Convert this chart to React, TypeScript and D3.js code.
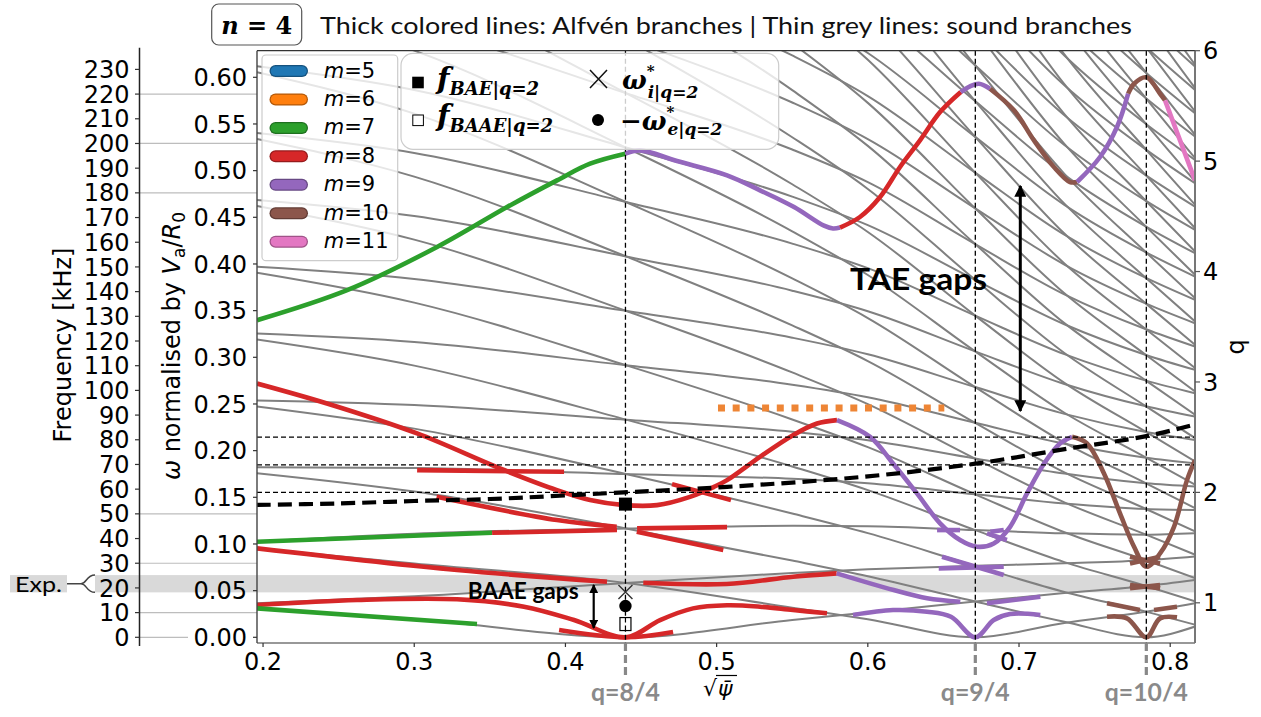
import React from "react";
import * as d3 from "d3";

// ---------- axes ----------
const X_DOMAIN = [0.196, 0.8164];
const OMEGA_DOMAIN = [-0.0061, 0.6285];
const Q_DOMAIN = [0.636, 6.0];
const KHZ_PER_OMEGA = 378;
const xTicks = [0.2, 0.3, 0.4, 0.5, 0.6, 0.7, 0.8];
const omegaTicks = [0, 0.05, 0.1, 0.15, 0.2, 0.25, 0.3, 0.35, 0.4, 0.45, 0.5, 0.55, 0.6];
const khzTicks = [0, 10, 20, 30, 40, 50, 60, 70, 80, 90, 100, 110, 120, 130, 140, 150, 160, 170, 180, 190, 200, 210, 220, 230];
const qTicks = [1, 2, 3, 4, 5, 6];
const khzGuides = [220, 200, 180, 50, 30, 10];
const expBandKHz = [18.2, 25.2];

// rational surfaces q = m/n
const rationalX = [0.4397, 0.6711, 0.7842];
const rationalQ = [2, 2.25, 2.5];
const rationalLabels = ["q=8/4", "q=9/4", "q=10/4"];

// safety factor profile (right axis)
const qProfile: [number, number][] = [
  [0.196, 1.886], [0.25, 1.9], [0.3, 1.922], [0.35, 1.94], [0.4386, 2.0], [0.507, 2.05],
  [0.6, 2.145], [0.6711, 2.26], [0.734, 2.4], [0.7842, 2.509], [0.8164, 2.615],
];

// orange dotted level
const orangeLevel = { x0: 0.5009, x1: 0.6506, w: 0.2458 };

// markers at q=2
const fBAE = 0.1427;
const fBAAE = 0.0142;
const omegaStarI = 0.0485;
const omegaStarE = 0.0335;

// ---------- m colours ----------
const mValues = [5, 6, 7, 8, 9, 10, 11];
const mColors = ["#1f77b4", "#ff7f0e", "#2ca02c", "#d62728", "#9467bd", "#8c564b", "#e377c2"];
const mEdge = ["#15527e", "#b35909", "#1f7020", "#961b1c", "#674884", "#623c35", "#9f5388"];

// ---------- Alfven branches (segments coloured by m) ----------
type Seg = { m: number; pts: [number, number][] };
const branchTop: Seg[] = [
  { m: 7, pts: [[0.196, 0.3397], [0.2556, 0.3719], [0.3151, 0.4182], [0.3614, 0.461], [0.3944, 0.4896], [0.4163, 0.5075], [0.4396, 0.5182]] },
  { m: 9, pts: [[0.4396, 0.5182], [0.4493, 0.5217], [0.4738, 0.5103], [0.5069, 0.495], [0.5287, 0.4789], [0.5512, 0.461], [0.571, 0.441], [0.577, 0.438], [0.5816, 0.439]] },
  { m: 8, pts: [[0.5816, 0.439], [0.5948, 0.4503], [0.6081, 0.4717], [0.6213, 0.5039], [0.6345, 0.5324], [0.6478, 0.5627], [0.6615, 0.5842]] },
  { m: 9, pts: [[0.6615, 0.5842], [0.6676, 0.5903], [0.6735, 0.5931], [0.6808, 0.5878]] },
  { m: 10, pts: [[0.6808, 0.5878], [0.6967, 0.5646], [0.7099, 0.5324], [0.7231, 0.5039], [0.7337, 0.4878], [0.7384, 0.4878]] },
  { m: 9, pts: [[0.7384, 0.4878], [0.7536, 0.5146], [0.7648, 0.5467], [0.7722, 0.5824]] },
  { m: 10, pts: [[0.7722, 0.5824], [0.7761, 0.5931], [0.7842, 0.6], [0.7933, 0.5824], [0.7966, 0.5753]] },
  { m: 11, pts: [[0.7966, 0.5753], [0.8065, 0.5324], [0.8164, 0.4896]] },
];
const branchBAE: Seg[] = [
  { m: 8, pts: [[0.196, 0.2719], [0.2423, 0.2505], [0.3019, 0.2184], [0.3567, 0.1809], [0.3944, 0.1577], [0.4163, 0.147], [0.4388, 0.1416], [0.4606, 0.1416], [0.4824, 0.1505], [0.4983, 0.1612], [0.5069, 0.1684], [0.5287, 0.1934], [0.5505, 0.2166], [0.5664, 0.2291], [0.5796, 0.2327]] },
  { m: 9, pts: [[0.5796, 0.2327], [0.6015, 0.2148], [0.6167, 0.1863], [0.6325, 0.1542], [0.6478, 0.1221], [0.661, 0.1042], [0.6722, 0.097], [0.6833, 0.1006], [0.6941, 0.1184], [0.7053, 0.1542], [0.7166, 0.1863], [0.7271, 0.2077], [0.7351, 0.2148]] },
  { m: 10, pts: [[0.7351, 0.2148], [0.745, 0.2077], [0.7562, 0.1756], [0.7668, 0.1328], [0.7761, 0.097], [0.7842, 0.0756], [0.7933, 0.0899], [0.8025, 0.1184], [0.8111, 0.1684], [0.8164, 0.1898]] },
];
const branchLow: Seg[] = [
  { m: 8, pts: [[0.3019, 0.1791], [0.3991, 0.1773]] },
  { m: 8, pts: [[0.4705, 0.1641], [0.5095, 0.147]] },
  { m: 7, pts: [[0.196, 0.1024], [0.3515, 0.112]] },
  { m: 8, pts: [[0.3515, 0.112], [0.4341, 0.1149]] },
  { m: 8, pts: [[0.4474, 0.1167], [0.5069, 0.118]] },
  { m: 8, pts: [[0.3148, 0.1505], [0.3944, 0.1256], [0.4339, 0.1184]] },
  { m: 8, pts: [[0.4472, 0.1131], [0.5044, 0.0935]] },
  { m: 8, pts: [[0.196, 0.0953], [0.3283, 0.0721], [0.4275, 0.0595]] },
  { m: 8, pts: [[0.4515, 0.0585], [0.5067, 0.0571], [0.5506, 0.0649], [0.5794, 0.0685]] },
  { m: 9, pts: [[0.5794, 0.0685], [0.6171, 0.0506], [0.6392, 0.0418], [0.6612, 0.0381]] },
  { m: 9, pts: [[0.6788, 0.0364], [0.7141, 0.0435]] },
  { m: 8, pts: [[0.196, 0.0346], [0.2622, 0.0399], [0.3283, 0.0407], [0.3726, 0.0328], [0.4057, 0.0185], [0.4401, 0.0], [0.4626, 0.0185], [0.4844, 0.031], [0.5069, 0.0343], [0.5287, 0.0328], [0.5505, 0.0292], [0.573, 0.0257]] },
  { m: 9, pts: [[0.5902, 0.0239], [0.6167, 0.0292], [0.6392, 0.0274], [0.655, 0.022], [0.6711, 0.0], [0.6833, 0.0185], [0.6941, 0.0249], [0.7141, 0.0239]] },
  { m: 7, pts: [[0.196, 0.031], [0.3415, 0.0142]] },
  { m: 8, pts: [[0.3958, 0.0078], [0.4401, 0.0], [0.4712, 0.0057]] },
  { m: 9, pts: [[0.6458, 0.1149], [0.661, 0.1149]] },
  { m: 9, pts: [[0.6788, 0.1113], [0.692, 0.1042]] },
  { m: 9, pts: [[0.681, 0.1131], [0.6899, 0.1149]] },
  { m: 9, pts: [[0.6469, 0.0739], [0.6899, 0.0756]] },
  { m: 9, pts: [[0.6491, 0.0863], [0.6899, 0.0667]] },
  { m: 10, pts: [[0.7734, 0.056], [0.7933, 0.0525]] },
  { m: 10, pts: [[0.7734, 0.0525], [0.7933, 0.056]] },
  { m: 10, pts: [[0.7582, 0.0364], [0.78, 0.0292]] },
  { m: 10, pts: [[0.7893, 0.0292], [0.8045, 0.0328]] },
  { m: 10, pts: [[0.7582, 0.0221], [0.7714, 0.0203], [0.7842, 0.0], [0.7933, 0.0203], [0.8045, 0.0214]] },
  { m: 10, pts: [[0.7734, 0.0863], [0.7933, 0.0792]] },
  { m: 10, pts: [[0.7734, 0.0792], [0.7933, 0.0863]] },
];

// ---------- sound branches (grey), values read at common abscissae ----------
const soundX = [0.196, 0.3, 0.44, 0.55, 0.6, 0.671, 0.73, 0.784, 0.8164];
const N = null;
const soundLines: (number | null)[][] = [
  // steeply falling family
  [0.2474, 0.2236, 0.1749, 0.1326, 0.1116, 0.0766, 0.0486, 0.0275, 0.0135],
  [0.319, 0.2911, 0.2332, 0.183, 0.1577, 0.1149, 0.0806, 0.055, 0.0385],
  [0.3906, 0.3586, 0.2915, 0.2334, 0.2038, 0.1532, 0.1126, 0.0825, 0.0635],
  [0.4622, 0.4261, 0.3498, 0.2838, 0.2499, 0.1915, 0.1446, 0.11, 0.0885],
  [0.5338, 0.4936, 0.4081, 0.3342, 0.296, 0.2298, 0.1766, 0.1375, 0.1135],
  [0.6054, 0.5611, 0.4664, 0.3846, 0.3421, 0.2681, 0.2086, 0.165, 0.1385],
  [0.677, 0.6286, 0.5247, 0.435, 0.3882, 0.3064, 0.2406, 0.1925, 0.1635],
  [0.7486, 0.6961, 0.583, 0.4854, 0.4343, 0.3447, 0.2726, 0.22, 0.1885],
  [0.8202, 0.7636, 0.6413, 0.5358, 0.4804, 0.383, 0.3046, 0.2475, 0.2135],
  [0.8918, 0.8311, 0.6996, 0.5862, 0.5265, 0.4213, 0.3366, 0.275, 0.2385],
  [N, 0.8986, 0.7579, 0.6366, 0.5726, 0.4596, 0.3686, 0.3025, 0.2635],
  [N, N, 0.8162, 0.687, 0.6187, 0.4979, 0.4006, 0.33, 0.2885],
  [N, N, 0.8745, 0.7374, 0.6648, 0.5362, 0.4326, 0.3575, 0.3135],
  [N, N, N, 0.7878, 0.7109, 0.5745, 0.4646, 0.385, 0.3385],
  [N, N, N, 0.8382, 0.757, 0.6128, 0.4966, 0.4125, 0.3635],
  [N, N, N, 0.8886, 0.8031, 0.6511, 0.5286, 0.44, 0.3885],
  [N, N, N, N, 0.8492, 0.6894, 0.5606, 0.4675, 0.4135],
  [N, N, N, N, 0.8953, 0.7277, 0.5926, 0.495, 0.4385],
  [N, N, N, N, N, 0.766, 0.6246, 0.5225, 0.4635],
  [N, N, N, N, N, 0.8043, 0.6566, 0.55, 0.4885],
  [N, N, N, N, N, 0.8426, 0.6886, 0.5775, 0.5135],
  [N, N, N, N, N, 0.8809, 0.7206, 0.605, 0.5385],
  [N, N, N, N, N, N, 0.7526, 0.6325, 0.5635],
  [N, N, N, N, N, N, 0.7846, 0.66, 0.5885],
  [N, N, N, N, N, N, 0.8166, 0.6875, 0.6135],
  // gently falling family
  [0.0365, 0.044, 0.0583, 0.069, 0.0728, 0.0766, 0.0794, 0.0825, 0.0865],
  [0.1024, 0.111, 0.1166, 0.1194, 0.1189, 0.1149, 0.1114, 0.11, 0.1115],
  [0.1822, 0.1814, 0.1749, 0.1698, 0.165, 0.1532, 0.1434, 0.1375, 0.1365],
  [0.2538, 0.2489, 0.2332, 0.2202, 0.2111, 0.1915, 0.1754, 0.165, 0.1615],
  [0.3254, 0.3164, 0.2915, 0.2706, 0.2572, 0.2298, 0.2074, 0.1925, 0.1865],
  [0.397, 0.3839, 0.3498, 0.321, 0.3033, 0.2681, 0.2394, 0.22, 0.2115],
  [0.4686, 0.4514, 0.4081, 0.3714, 0.3494, 0.3064, 0.2714, 0.2475, 0.2365],
  [0.5402, 0.5189, 0.4664, 0.4218, 0.3955, 0.3447, 0.3034, 0.275, 0.2615],
  [0.6118, 0.5864, 0.5247, 0.4722, 0.4416, 0.383, 0.3354, 0.3025, 0.2865],
  [0.6833, 0.6539, 0.583, 0.5226, 0.4877, 0.4213, 0.3674, 0.33, 0.3115],
  [0.755, 0.7214, 0.6413, 0.573, 0.5338, 0.4596, 0.3994, 0.3575, 0.3365],
  [0.8266, 0.7889, 0.6996, 0.6234, 0.5799, 0.4979, 0.4314, 0.385, 0.3615],
  [0.8981, 0.8564, 0.7579, 0.6738, 0.626, 0.5362, 0.4634, 0.4125, 0.3865],
  [N, 0.9239, 0.8162, 0.7242, 0.6721, 0.5745, 0.4954, 0.44, 0.4115],
  [N, N, 0.8745, 0.7746, 0.7182, 0.6128, 0.5274, 0.4675, 0.4365],
  [N, N, N, 0.825, 0.7643, 0.6511, 0.5594, 0.495, 0.4615],
  [N, N, N, 0.8754, 0.8104, 0.6894, 0.5914, 0.5225, 0.4865],
  [N, N, N, N, 0.8565, 0.7277, 0.6234, 0.55, 0.5115],
  [N, N, N, N, 0.9026, 0.766, 0.6554, 0.5775, 0.5365],
  [N, N, N, N, N, 0.8043, 0.6874, 0.605, 0.5615],
  [N, N, N, N, N, 0.8426, 0.7194, 0.6325, 0.5865],
  [N, N, N, N, N, 0.8809, 0.7514, 0.66, 0.6115],
  // branches touching zero at the rational surfaces
  [0.031, 0.0195, 0.0, 0.0186, 0.0267, 0.0383, 0.0474, 0.055, 0.0615],
  [0.0953, 0.079, 0.0583, 0.0318, 0.0194, 0.0, 0.0154, 0.0275, 0.0365],
  [0.1758, 0.1561, 0.1166, 0.0822, 0.0655, 0.0383, 0.0166, 0.0, 0.0115],
];

const App: React.FC = () => {
  const W = 1261, H = 717;
  const L = 257, R = 1195, T = 50.7, B = 643;
  const x = d3.scaleLinear().domain(X_DOMAIN).range([L, R]);
  const y = d3.scaleLinear().domain(OMEGA_DOMAIN).range([B, T]);
  const yq = d3.scaleLinear().domain(Q_DOMAIN).range([B, T]);
  const yk = (k: number) => y(k / KHZ_PER_OMEGA);
  const line = d3.line<[number, number]>().x((d) => x(d[0])).y((d) => y(d[1])).curve(d3.curveCatmullRom.alpha(0.5));
  const soundLine = d3.line<[number, number | null]>()
    .defined((d) => d[1] !== null)
    .x((d) => x(d[0])).y((d) => y(d[1] as number)).curve(d3.curveMonotoneX);
  const qLine = d3.line<[number, number]>().x((d) => x(d[0])).y((d) => yq(d[1])).curve(d3.curveCatmullRom.alpha(0.5));
  const col = (m: number) => mColors[mValues.indexOf(m)];
  const kAxisX = 139.5;
  const sans = "DejaVu Sans, sans-serif";
  const cal = "Lato, 'Open Sans', sans-serif";
  const serif = "DejaVu Serif, serif";

  const drawSegs = (segs: Seg[], key: string) =>
    segs.map((s, i) => (
      <path key={key + i} d={line(s.pts) || ""} fill="none" stroke={col(s.m)} strokeWidth={4.6} strokeLinecap="butt" strokeLinejoin="round" />
    ));

  return (
    <svg width={W} height={H} style={{ position: "absolute", left: 0, top: 0, background: "#fff" }} xmlns="http://www.w3.org/2000/svg">
      <defs>
        <clipPath id="plotclip"><rect x={L} y={T} width={R - L} height={B - T} /></clipPath>
        <marker id="ah" viewBox="0 0 10 10" refX="9" refY="5" markerWidth="4" markerHeight="4" orient="auto-start-reverse">
          <path d="M0,0 L10,5 L0,10 z" fill="#000" />
        </marker>
      </defs>
      <rect x={0} y={0} width={W} height={H} fill="#fff" />

      {/* title */}
      <rect x={211.7} y={4} width={90} height={41} rx={7} fill="#fff" stroke="#555" strokeWidth={1.2} />
      <text x={256.7} y={34} textAnchor="middle" fontFamily={serif} fontWeight="bold" fontSize={24}>
        <tspan fontStyle="italic">n</tspan> = 4
      </text>
      <text x={320} y={34} fontFamily={cal} fontSize={24} textLength={812} lengthAdjust="spacingAndGlyphs" fill="#111">
        Thick colored lines: Alfvén branches | Thin grey lines: sound branches
      </text>

      {/* experimental band */}
      <rect x={95} y={yk(expBandKHz[1])} width={R - 95} height={yk(expBandKHz[0]) - yk(expBandKHz[1])} fill="#d9d9d9" />
      <rect x={10} y={yk(expBandKHz[1])} width={57} height={yk(expBandKHz[0]) - yk(expBandKHz[1])} fill="#d9d9d9" />
      <text x={38.5} y={yk((expBandKHz[0] + expBandKHz[1]) / 2) + 8} textAnchor="middle" fontFamily={cal} fontSize={22} textLength={47} lengthAdjust="spacingAndGlyphs">Exp.</text>
      {(() => {
        const yt = yk(expBandKHz[1]), yb = yk(expBandKHz[0]), ym = (yt + yb) / 2;
        return <path d={`M67,${ym} H81 M95,${yt} C86,${yt} 87,${ym} 81,${ym} C87,${ym} 86,${yb} 95,${yb}`} fill="none" stroke="#444" strokeWidth={1.5} />;
      })()}

      {/* guide lines between axes */}
      {khzGuides.map((k) => (
        <line key={"g" + k} x1={kAxisX} x2={L} y1={yk(k)} y2={yk(k)} stroke="#bdbdbd" strokeWidth={1.2} />
      ))}
      <line x1={kAxisX} x2={188} y1={yk(0)} y2={yk(0)} stroke="#bdbdbd" strokeWidth={1.2} />

      {/* plot content */}
      <g clipPath="url(#plotclip)">
        {soundLines.map((vals, i) => (
          <path key={"s" + i} d={soundLine(soundX.map((v, j) => [v, vals[j]] as [number, number | null])) || ""} fill="none" stroke="#808080" strokeWidth={2} />
        ))}
        {drawSegs(branchTop, "t")}
        {drawSegs(branchBAE, "b")}
        {drawSegs(branchLow, "l")}
        {/* horizontal dashed at rational q */}
        {rationalQ.map((q, i) => (
          <line key={"hq" + i} x1={L} x2={R} y1={yq(q)} y2={yq(q)} stroke="#000" strokeWidth={1.3} strokeDasharray="5,3" />
        ))}
        {rationalX.map((v, i) => (
          <line key={"vq" + i} x1={x(v)} x2={x(v)} y1={T} y2={B} stroke="#000" strokeWidth={1.3} strokeDasharray="5,3" />
        ))}
        <path d={qLine(qProfile) || ""} fill="none" stroke="#000" strokeWidth={4.2} strokeDasharray="14,7" />
        <line x1={x(orangeLevel.x0)} x2={x(orangeLevel.x1)} y1={y(orangeLevel.w)} y2={y(orangeLevel.w)} stroke="#ee8535" strokeWidth={7} strokeDasharray="7,7.7" />
        {/* markers */}
        <rect x={x(rationalX[0]) - 6.5} y={y(fBAE) - 6.5} width={13} height={13} fill="#000" />
        <rect x={x(rationalX[0]) - 5.5} y={y(fBAAE) - 6.5} width={11} height={13} fill="#fff" stroke="#000" strokeWidth={1.2} />
        <line x1={x(rationalX[0])} x2={x(rationalX[0])} y1={y(fBAAE) - 6.5} y2={y(fBAAE) + 6.5} stroke="#000" strokeWidth={1.2} strokeDasharray="5,3" />
        <circle cx={x(rationalX[0])} cy={y(omegaStarE)} r={6.2} fill="#000" />
        <path d={`M${x(rationalX[0]) - 7},${y(omegaStarI) - 7} L${x(rationalX[0]) + 7},${y(omegaStarI) + 7} M${x(rationalX[0]) + 7},${y(omegaStarI) - 7} L${x(rationalX[0]) - 7},${y(omegaStarI) + 7}`} stroke="#333" strokeWidth={1.4} />
        {/* annotations */}
        <text x={850} y={290} fontFamily={cal} fontWeight="bold" fontSize={31} textLength={137} lengthAdjust="spacingAndGlyphs">TAE gaps</text>
        <line x1={1020.3} x2={1020.3} y1={186} y2={411} stroke="#000" strokeWidth={3} markerStart="url(#ah)" markerEnd="url(#ah)" />
        <text x={467.7} y={599.3} fontFamily={cal} fontWeight="bold" fontSize={22} textLength={111} lengthAdjust="spacingAndGlyphs">BAAE gaps</text>
        <line x1={593.7} x2={593.7} y1={585} y2={628} stroke="#000" strokeWidth={2.2} markerStart="url(#ah)" markerEnd="url(#ah)" />
      </g>

      {/* legend 1 */}
      <rect x={262} y={55} width={135.7} height={205.7} rx={4} fill="#fff" fillOpacity={0.8} stroke="#cccccc" strokeWidth={1.2} />
      {mValues.map((m, i) => {
        const cy = 71 + i * 28.45;
        return (
          <g key={"lg" + m}>
            <line x1={275.5} x2={302} y1={cy} y2={cy} stroke={mEdge[i]} strokeWidth={12} strokeLinecap="round" />
            <line x1={275.5} x2={302} y1={cy} y2={cy} stroke={mColors[i]} strokeWidth={9.5} strokeLinecap="round" />
            <text x={323.7} y={cy + 6.5} fontFamily={sans} fontSize={21}>
              <tspan fontStyle="italic">m</tspan>=<tspan>{m}</tspan>
            </text>
          </g>
        );
      })}

      {/* legend 2 */}
      <rect x={401} y={53.3} width={377.7} height={96} rx={12} fill="#fff" fillOpacity={0.8} stroke="#cccccc" strokeWidth={1.2} />
      <rect x={412.2} y={76.7} width={11.6} height={11.6} fill="#000" />
      <rect x={412.8} y={115} width={10.6} height={10.6} fill="#fff" stroke="#000" strokeWidth={1} />
      <text x={437} y={89} fontFamily={serif} fontWeight="bold" fontStyle="italic" fontSize={29}>
        f<tspan fontSize={18} dy={6}>BAE|q=2</tspan>
      </text>
      <text x={437} y={126} fontFamily={serif} fontWeight="bold" fontStyle="italic" fontSize={29}>
        f<tspan fontSize={18} dy={6}>BAAE|q=2</tspan>
      </text>
      <path d="M590,70 L607,88 M607,70 L590,88" stroke="#111" strokeWidth={1.5} />
      <circle cx={598} cy={120} r={6} fill="#000" />
      <text x={622} y={89} fontFamily={serif} fontWeight="bold" fontStyle="italic" fontSize={26}>
        ω<tspan fontSize={15} dy={-13}>*</tspan><tspan fontSize={17} dx={-7} dy={22}>i|q=2</tspan>
      </text>
      <text x={620} y={130} fontFamily={serif} fontWeight="bold" fontStyle="italic" fontSize={26}>
        −ω<tspan fontSize={15} dy={-13}>*</tspan><tspan fontSize={17} dx={-7} dy={18}>e|q=2</tspan>
      </text>

      {/* frame */}
      <line x1={L} x2={R} y1={T} y2={T} stroke="#333" strokeWidth={1.2} />
      <line x1={L} x2={R} y1={B} y2={B} stroke="#333" strokeWidth={1.2} />
      <line x1={L} x2={L} y1={T} y2={B} stroke="#444" strokeWidth={1.4} />
      <line x1={R} x2={R} y1={T} y2={B} stroke="#777" strokeWidth={2} />

      {/* x axis */}
      {xTicks.map((t) => (
        <g key={"xt" + t}>
          <line x1={x(t)} x2={x(t)} y1={B} y2={B + 4} stroke="#333" strokeWidth={1.2} />
          <text x={x(t)} y={670} textAnchor="middle" fontFamily={sans} fontSize={24}>{t.toFixed(1)}</text>
        </g>
      ))}
      {rationalX.map((v, i) => (
        <g key={"rl" + i}>
          <line x1={x(v)} x2={x(v)} y1={B} y2={677} stroke="#888" strokeWidth={3.2} strokeDasharray="8,4" />
          <text x={x(v)} y={701} textAnchor="middle" fontFamily={cal} fontWeight="bold" fontSize={24} fill="#8a8a8a" textLength={i === 2 ? 83 : 69} lengthAdjust="spacingAndGlyphs">{rationalLabels[i]}</text>
        </g>
      ))}
      <g fontFamily={sans} fontSize={22}>
        <text x={703} y={696}>√</text>
        <line x1={716} x2={737} y1={675.5} y2={675.5} stroke="#000" strokeWidth={1.2} />
        <text x={718} y={696} fontStyle="italic">ψ̄</text>
      </g>

      {/* omega axis */}
      {omegaTicks.map((t) => (
        <g key={"wt" + t}>
          <line x1={L - 4} x2={L} y1={y(t)} y2={y(t)} stroke="#333" strokeWidth={1.2} />
          <text x={247} y={y(t)} dy="0.36em" textAnchor="end" fontFamily={sans} fontSize={24}>{t.toFixed(2)}</text>
        </g>
      ))}
      <text transform={`translate(180,346) rotate(-90)`} textAnchor="middle" fontFamily={sans} fontSize={24}>
        <tspan fontStyle="italic">ω</tspan> normalised by <tspan fontStyle="italic">V</tspan><tspan fontSize={17} dy={5}>a</tspan><tspan dy={-5}>/</tspan><tspan fontStyle="italic">R</tspan><tspan fontSize={17} dy={5}>0</tspan>
      </text>

      {/* kHz axis */}
      <line x1={kAxisX} x2={kAxisX} y1={47.7} y2={646} stroke="#222" strokeWidth={1.5} />
      {khzTicks.map((k) => (
        <g key={"kt" + k}>
          <line x1={kAxisX - 4.5} x2={kAxisX} y1={yk(k)} y2={yk(k)} stroke="#333" strokeWidth={1.2} />
          <text x={129.5} y={yk(k)} dy="0.36em" textAnchor="end" fontFamily={sans} fontSize={24}>{k}</text>
        </g>
      ))}
      <text transform={`translate(71,345) rotate(-90)`} textAnchor="middle" fontFamily={sans} fontSize={24}>Frequency [kHz]</text>

      {/* q axis */}
      {qTicks.map((q) => (
        <g key={"qt" + q}>
          <line x1={R} x2={R + 5} y1={yq(q)} y2={yq(q)} stroke="#555" strokeWidth={1.2} />
          <text x={1203} y={yq(q)} dy="0.36em" fontFamily={sans} fontSize={24}>{q}</text>
        </g>
      ))}
      <text transform={`translate(1244,347) rotate(-90)`} textAnchor="middle" fontFamily={sans} fontSize={24}>q</text>
    </svg>
  );
};

export default App;
